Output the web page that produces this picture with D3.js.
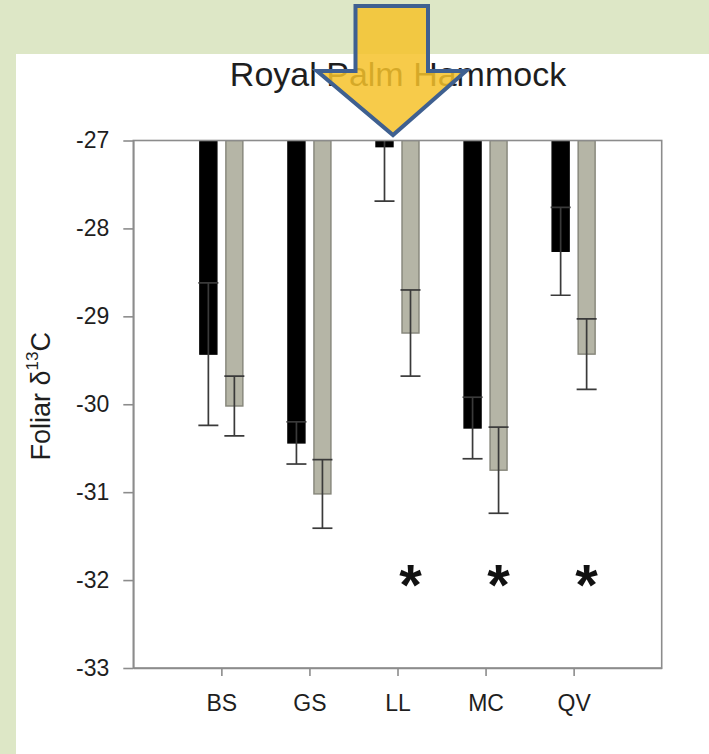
<!DOCTYPE html>
<html>
<head>
<meta charset="utf-8">
<script src="https://cdn.jsdelivr.net/npm/d3@7"></script>
<style>
  body { margin: 0; background: #ffffff; }
  svg { display: block; font-family: "Liberation Sans", Arial, sans-serif; }
</style>
</head>
<body>
<svg id="chart" width="709" height="754"></svg>
<script>
// Foliar carbon isotope ratios by species, two groups per species
const categories = ["BS", "GS", "LL", "MC", "QV"];
const blackMeans = [-29.43, -30.44, -27.07, -30.27, -28.26];
const blackErr   = [0.81, 0.24, 0.62, 0.35, 0.50];
const grayMeans  = [-30.02, -31.02, -29.19, -30.75, -29.43];
const grayErr    = [0.34, 0.39, 0.49, 0.49, 0.40];
const yTicks = [-27, -28, -29, -30, -31, -32, -33];
const starred = ["LL", "MC", "QV"];
const starLevel = -32;
const titleText = "Royal Palm Hammock";

const svg = d3.select("#chart");
const W = 709, H = 754;

// slide-style background and white panel
svg.append("rect").attr("width", W).attr("height", H).attr("fill", "#dde7c6");
svg.append("rect").attr("x", 16).attr("y", 54).attr("width", W - 16).attr("height", H - 54).attr("fill", "#ffffff");

const plot = { left: 133.3, right: 661.7, top: 140.5, bottom: 668 };

const x = d3.scalePoint().domain(categories).range([plot.left, plot.right]).padding(1);
const y = d3.scaleLinear().domain([-33, -27]).range([plot.bottom, plot.top]);

const barW = 17, offset = 13, capW = 20;
const axisColor = "#8c8c8c";

// clip region for bars and whiskers
svg.append("defs").append("clipPath").attr("id", "plotClip")
  .append("rect").attr("x", plot.left).attr("y", plot.top)
  .attr("width", plot.right - plot.left).attr("height", plot.bottom - plot.top);

const g = svg.append("g").attr("clip-path", "url(#plotClip)");

const series = [
  { means: blackMeans, errs: blackErr, dx: -offset, fill: "#000000", stroke: "#000000" },
  { means: grayMeans,  errs: grayErr,  dx:  offset, fill: "#b5b5a6", stroke: "#85857a" }
];

series.forEach(s => {
  const rows = categories.map((c, i) => ({ c, m: s.means[i], e: s.errs[i] }));
  g.selectAll(null).data(rows).enter().append("rect")
    .attr("x", d => x(d.c) + s.dx - barW / 2)
    .attr("y", y(-27))
    .attr("width", barW)
    .attr("height", d => y(d.m) - y(-27))
    .attr("fill", s.fill)
    .attr("stroke", s.stroke)
    .attr("stroke-width", 1.4);

  const eb = g.selectAll(null).data(rows).enter().append("g")
    .attr("stroke", "#3a3a3a").attr("stroke-width", 1.7);
  eb.append("line")
    .attr("x1", d => x(d.c) + s.dx).attr("x2", d => x(d.c) + s.dx)
    .attr("y1", d => y(d.m + d.e)).attr("y2", d => y(d.m - d.e));
  eb.append("line")
    .attr("x1", d => x(d.c) + s.dx - capW / 2).attr("x2", d => x(d.c) + s.dx + capW / 2)
    .attr("y1", d => y(d.m + d.e)).attr("y2", d => y(d.m + d.e));
  eb.append("line")
    .attr("x1", d => x(d.c) + s.dx - capW / 2).attr("x2", d => x(d.c) + s.dx + capW / 2)
    .attr("y1", d => y(d.m - d.e)).attr("y2", d => y(d.m - d.e));
});

// frame
svg.append("rect")
  .attr("x", plot.left).attr("y", plot.top)
  .attr("width", plot.right - plot.left).attr("height", plot.bottom - plot.top)
  .attr("fill", "none").attr("stroke", axisColor).attr("stroke-width", 1.6);

// axes
const yAxis = svg.append("g").attr("transform", `translate(${plot.left},0)`)
  .call(d3.axisLeft(y).tickValues(yTicks).tickFormat(d => String(d))
    .tickSize(10).tickSizeOuter(0).tickPadding(14));
const xAxis = svg.append("g").attr("transform", `translate(0,${plot.bottom})`)
  .call(d3.axisBottom(x).tickSize(8).tickSizeOuter(0).tickPadding(19));
[yAxis, xAxis].forEach(a => {
  a.select(".domain").attr("stroke", axisColor).attr("stroke-width", 1.6);
  a.selectAll(".tick line").attr("stroke", axisColor).attr("stroke-width", 1.6);
  a.selectAll(".tick text").attr("fill", "#1e1e1e")
    .attr("font-size", 23).attr("font-family", "Liberation Sans, Arial, sans-serif");
});

// significance markers
svg.selectAll(null).data(starred).enter().append("text")
  .attr("x", d => x(d) + offset)
  .attr("y", y(starLevel) + 25)
  .attr("text-anchor", "middle")
  .attr("font-size", 58).attr("font-weight", "bold").attr("fill", "#111")
  .text("*");

// y-axis label
const yl = svg.append("text")
  .attr("transform", `translate(50,${(plot.top + plot.bottom) / 2 - 8}) rotate(-90)`)
  .attr("text-anchor", "middle")
  .attr("font-size", 27).attr("fill", "#1e1e1e");
yl.append("tspan").text("Foliar δ");
yl.append("tspan").attr("font-size", 17).attr("dy", -12).text("13");
yl.append("tspan").attr("dy", 12).text("C");

// title
svg.append("text")
  .attr("x", 398).attr("y", 86)
  .attr("text-anchor", "middle")
  .attr("font-size", 34).attr("fill", "#1e1e1e")
  .text(titleText);

// highlight arrow pointing at LL
const ax = x("LL") - offset + 8.5;
const arrowPts = [
  [355.5, 6], [428, 6], [428, 71], [466, 71], [ax, 135], [317, 71], [355.5, 71]
];
svg.append("path")
  .attr("d", d3.line()(arrowPts) + "Z")
  .attr("fill", "#f6c22a").attr("fill-opacity", 0.85)
  .attr("stroke", "#3f6090").attr("stroke-width", 4).attr("stroke-linejoin", "miter");
</script>
</body>
</html>
